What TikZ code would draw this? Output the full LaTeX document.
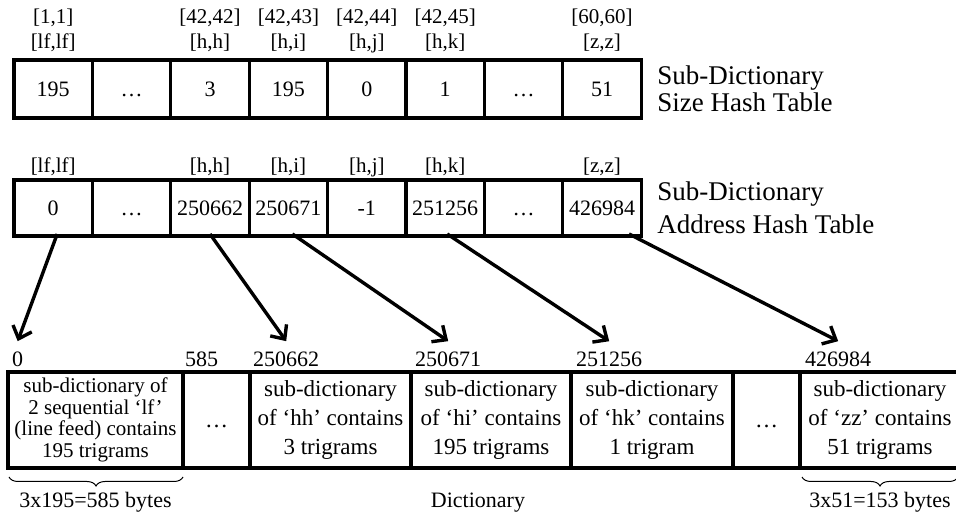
\documentclass[tikz,border=0pt]{standalone}
\usepackage{fontspec}
\setmainfont{Liberation Serif}
\usetikzlibrary{positioning,calc,arrows.meta,decorations.pathreplacing}

\begin{document}
\begin{tikzpicture}[x=1pt,y=1pt,
    cell node/.style={draw,line width=3.2pt,inner sep=0pt,outer sep=0pt,
      minimum width=78.4pt,minimum height=58pt,text height=15pt,text depth=0pt,
      font=\fontsize{22}{24}\selectfont},
    dict node/.style={draw,line width=3.2pt,inner sep=0pt,outer sep=0pt,
      minimum height=96pt,align=center,font=\fontsize{23}{29}\selectfont},
    gap node/.style={dict node,minimum width=67pt,text height=16pt,text depth=0pt},
    key node/.style={inner sep=0pt,align=center,text depth=5pt,
      font=\fontsize{21}{25}\selectfont},
    table node/.style={inner sep=0pt,align=left,font=\fontsize{27}{27}\selectfont},
    offset node/.style={inner sep=0pt,anchor=base west,font=\fontsize{22}{24}\selectfont},
    size node/.style={inner sep=0pt,anchor=base,font=\fontsize{22}{24}\selectfont},
    pointer/.style={line width=3.4pt,-{Straight Barb[length=11pt,width=20pt]}},
    bytes brace/.style={decorate,decoration={brace,mirror,amplitude=9pt},line width=1pt}]

  \useasboundingbox (0,0) rectangle (956,518);

  % size hash table
  \node[cell node] (s1) at (53.2,429) {195};
  \node[cell node] (s2) [right=0pt of s1] {\dots};
  \node[cell node] (s3) [right=0pt of s2] {3};
  \node[cell node] (s4) [right=0pt of s3] {195};
  \node[cell node] (s5) [right=0pt of s4] {0};
  \node[cell node] (s6) [right=0pt of s5] {1};
  \node[cell node] (s7) [right=0pt of s6] {\dots};
  \node[cell node] (s8) [right=0pt of s7] {51};

  \node[key node,above=6pt of s1] (ks1) {[1,1]\\{}[lf,lf]};
  \node[key node,above=6pt of s3] (ks3) {[42,42]\\{}[h,h]};
  \node[key node,above=6pt of s4] (ks4) {[42,43]\\{}[h,i]};
  \node[key node,above=6pt of s5] (ks5) {[42,44]\\{}[h,j]};
  \node[key node,above=6pt of s6] (ks6) {[42,45]\\{}[h,k]};
  \node[key node,above=6pt of s8] (ks8) {[60,60]\\{}[z,z]};

  \node[table node,right=16pt of s8] (size) {Sub-Dictionary\\Size Hash Table};

  % address hash table
  \node[cell node,minimum height=56pt] (a1) at (53.2,310) {0};
  \node[cell node,minimum height=56pt] (a2) [right=0pt of a1] {\dots};
  \node[cell node,minimum height=56pt] (a3) [right=0pt of a2] {250662};
  \node[cell node,minimum height=56pt] (a4) [right=0pt of a3] {250671};
  \node[cell node,minimum height=56pt] (a5) [right=0pt of a4] {-1};
  \node[cell node,minimum height=56pt] (a6) [right=0pt of a5] {251256};
  \node[cell node,minimum height=56pt] (a7) [right=0pt of a6] {\dots};
  \node[cell node,minimum height=56pt] (a8) [right=0pt of a7] {426984};

  \node[key node,above=2.5pt of a1] (ka1) {[lf,lf]};
  \node[key node,above=2.5pt of a3] (ka3) {[h,h]};
  \node[key node,above=2.5pt of a4] (ka4) {[h,i]};
  \node[key node,above=2.5pt of a5] (ka5) {[h,j]};
  \node[key node,above=2.5pt of a6] (ka6) {[h,k]};
  \node[key node,above=2.5pt of a8] (ka8) {[z,z]};

  \node[table node,font=\fontsize{27}{33}\selectfont,right=16pt of a8] (address)
    {Sub-Dictionary\\Address Hash Table};

  % dictionary
  \node[dict node,minimum width=175pt,font=\fontsize{21}{21.5}\selectfont] (d1) at (95.5,98)
    {sub-dictionary of\\2 sequential ‘lf’\\(line feed) contains\\195 trigrams};
  \node[gap node] (d2) [right=0pt of d1] {\dots};
  \node[dict node,minimum width=161pt] (d3) [right=0pt of d2]
    {sub-dictionary\\of ‘hh’ contains\\3 trigrams};
  \node[dict node,minimum width=160pt] (d4) [right=0pt of d3]
    {sub-dictionary\\of ‘hi’ contains\\195 trigrams};
  \node[dict node,minimum width=162pt] (d5) [right=0pt of d4]
    {sub-dictionary\\of ‘hk’ contains\\1 trigram};
  \node[gap node] (d6) [right=0pt of d5] {\dots};
  \node[dict node,minimum width=160pt] (d7) [right=0pt of d6]
    {sub-dictionary\\of ‘zz’ contains\\51 trigrams};

  \node[offset node] (o1) at ([xshift=4pt,yshift=5pt]d1.north west) {0};
  \node[offset node] (o2) at ([xshift=2pt,yshift=5pt]d2.north west) {585};
  \node[offset node] (o3) at ([xshift=3pt,yshift=5pt]d3.north west) {250662};
  \node[offset node] (o4) at ([xshift=4pt,yshift=5pt]d4.north west) {250671};
  \node[offset node] (o5) at ([xshift=5pt,yshift=5pt]d5.north west) {251256};
  \node[offset node] (o7) at ([xshift=5pt,yshift=5pt]d7.north west) {426984};

  % pointers
  \draw[pointer] ([xshift=4pt,yshift=2pt]a1.south) -- ([yshift=11pt]o1.north);
  \draw[pointer] ([yshift=2pt]a3.south) -- ([yshift=11pt]o3.north);
  \draw[pointer] ([xshift=4pt,yshift=2pt]a4.south) -- ([yshift=11pt]o4.north);
  \draw[pointer] ([xshift=2pt,yshift=2pt]a6.south) -- ([yshift=11pt]o5.north);
  \draw[pointer] ([xshift=27pt,yshift=2pt]a8.south) -- ([yshift=11pt]o7.north);

  % sizes
  \draw[bytes brace] ([xshift=1pt,yshift=-9pt]d1.south west) -- ([yshift=-9pt]d1.south east);
  \draw[bytes brace] ([xshift=2pt,yshift=-9pt]d7.south west) -- ([xshift=-2pt,yshift=-9pt]d7.south east);
  \node[size node] (b1) at ($(d1.south)+(0,-40)$) {3x195=585 bytes};
  \node[size node] (b7) at ($(d7.south)+(0,-40)$) {3x51=153 bytes};
  \node[size node] (dict) at (478,10) {Dictionary};

\end{tikzpicture}
\end{document}
